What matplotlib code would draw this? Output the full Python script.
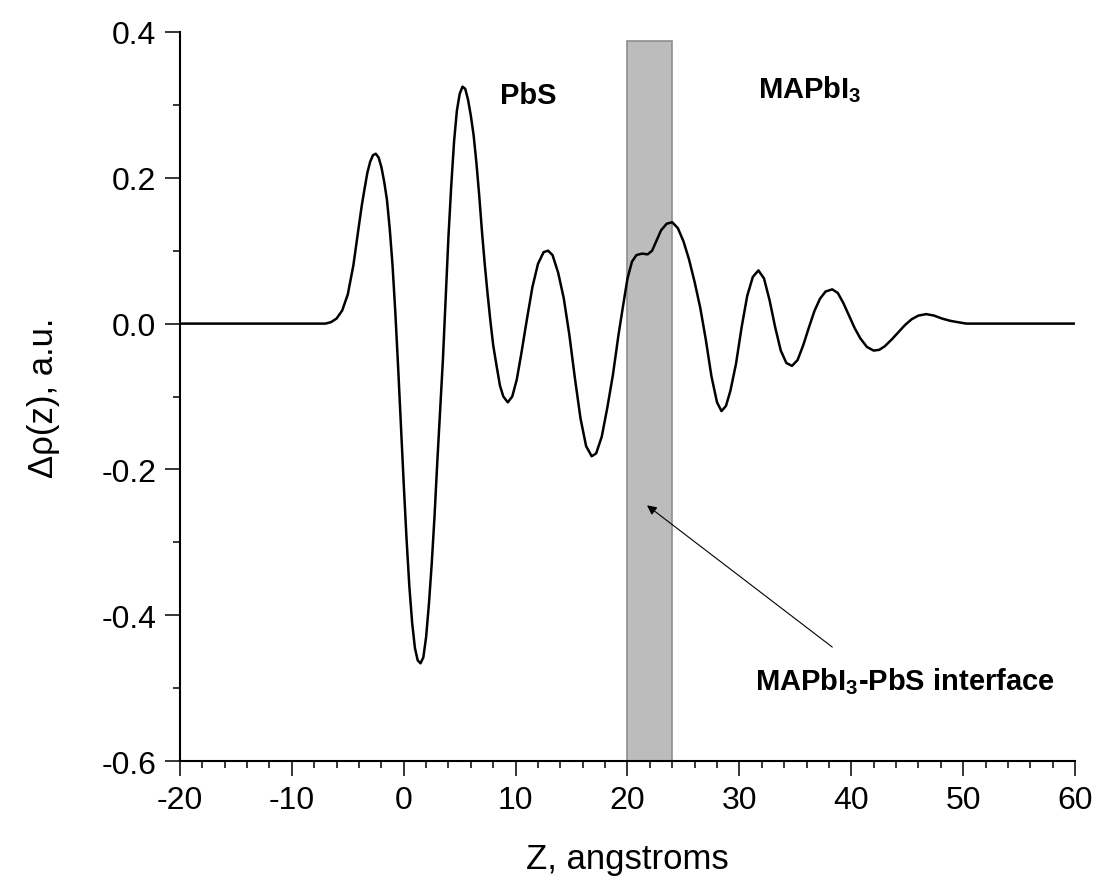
import matplotlib
matplotlib.use("Agg")
import matplotlib.pyplot as plt
from matplotlib.patches import Rectangle
from matplotlib.ticker import MultipleLocator, FormatStrFormatter

plt.rcParams['font.family'] = ['Liberation Sans', 'DejaVu Sans']
plt.rcParams['axes.unicode_minus'] = False
plt.rcParams['mathtext.fontset'] = 'custom'
plt.rcParams['mathtext.rm'] = 'Liberation Sans'
plt.rcParams['mathtext.bf'] = 'Liberation Sans:bold'

# DATA

z = [-20, -7, -6.5, -6, -5.5, -5, -4.5, -4.25, -4, -3.75, -3.5, -3.25, -3,
     -2.75, -2.5, -2.25, -2, -1.75, -1.5, -1.25, -1, -0.75, -0.5, -0.25, 0,
     0.25, 0.5, 0.75, 1, 1.25, 1.5, 1.75, 2, 2.25, 2.5, 2.75, 3, 3.25, 3.5,
     3.75, 4, 4.25, 4.5, 4.75, 5, 5.25, 5.5, 5.75, 6, 6.25, 6.5, 6.75, 7,
     7.25, 7.5, 7.75, 8, 8.3, 8.6, 8.9, 9.3, 9.7, 10.1, 10.5, 11, 11.5, 12,
     12.5, 12.9, 13.3, 13.8, 14.3, 14.8, 15.3, 15.8, 16.3, 16.8, 17.2, 17.7,
     18.2, 18.7, 19.2, 19.6, 20, 20.4, 20.8, 21.3, 21.8, 22.2, 22.6, 23, 23.5,
     24, 24.5, 25, 25.5, 26, 26.5, 27, 27.5, 28, 28.4, 28.8, 29.2, 29.7, 30.2,
     30.7, 31.2, 31.7, 32.2, 32.7, 33.2, 33.7, 34.2, 34.7, 35.2, 35.7, 36.2,
     36.7, 37.2, 37.7, 38.3, 38.8, 39.3, 39.8, 40.3, 40.8, 41.4, 42, 42.5, 43,
     43.6, 44.2, 44.8, 45.4, 46, 46.7, 47.4, 48.1, 48.8, 49.5, 50.3, 60]
drho = [0, 0, 0.002, 0.007, 0.018, 0.04, 0.08, 0.108, 0.135, 0.162, 0.185,
        0.207, 0.222, 0.231, 0.233, 0.228, 0.215, 0.195, 0.17, 0.13, 0.08,
        0.015, -0.06, -0.14, -0.22, -0.295, -0.36, -0.41, -0.445, -0.462,
        -0.466, -0.458, -0.43, -0.385, -0.33, -0.265, -0.19, -0.12, -0.05,
        0.035, 0.12, 0.19, 0.25, 0.292, 0.315, 0.325, 0.322, 0.307, 0.285,
        0.258, 0.22, 0.175, 0.125, 0.08, 0.04, 0.003, -0.03, -0.058, -0.085,
        -0.1, -0.108, -0.1, -0.077, -0.042, 0.005, 0.05, 0.082, 0.098, 0.1,
        0.094, 0.07, 0.035, -0.015, -0.075, -0.13, -0.168, -0.182, -0.178,
        -0.155, -0.115, -0.07, -0.015, 0.024, 0.062, 0.085, 0.094, 0.096,
        0.095, 0.1, 0.114, 0.128, 0.137, 0.139, 0.131, 0.113, 0.088, 0.057,
        0.022, -0.022, -0.072, -0.108, -0.12, -0.113, -0.092, -0.055, -0.005,
        0.038, 0.064, 0.073, 0.062, 0.032, -0.005, -0.037, -0.054, -0.058,
        -0.05, -0.03, -0.006, 0.017, 0.034, 0.044, 0.047, 0.042, 0.028, 0.011,
        -0.006, -0.02, -0.032, -0.037, -0.036, -0.031, -0.022, -0.012, -0.002,
        0.006, 0.011, 0.013, 0.011, 0.007, 0.004, 0.002, 0.0, 0]

interface = [20, 24]       # shaded interface region, angstroms
band_top = 0.388

# PLOT

fig = plt.figure(figsize=(11, 8.87), dpi=100)
ax = fig.add_axes([0.1636, 0.1409, 0.8137, 0.8219])

ax.add_patch(Rectangle((interface[0], -0.6), interface[1] - interface[0],
                       band_top + 0.6, facecolor='#bcbcbc',
                       edgecolor='#8e8e8e', linewidth=1.2, zorder=1))
ax.plot(z, drho, color='black', linewidth=1.8, zorder=3)

ax.set_xlim(-20, 60)
ax.set_ylim(-0.6, 0.4)
ax.xaxis.set_major_locator(MultipleLocator(10))
ax.xaxis.set_minor_locator(MultipleLocator(2))
ax.yaxis.set_major_locator(MultipleLocator(0.2))
ax.yaxis.set_minor_locator(MultipleLocator(0.1))
ax.yaxis.set_major_formatter(FormatStrFormatter('%.1f'))

for s in ['top', 'right']:
    ax.spines[s].set_visible(False)
for s in ['left', 'bottom']:
    ax.spines[s].set_linewidth(1.5)

ax.tick_params(which='major', direction='out', length=11, width=1.1,
               labelsize=23, pad=6)
ax.tick_params(which='minor', direction='out', length=5, width=1.1)

ax.set_xlabel('Z, angstroms', fontsize=25, labelpad=20)
ax.set_ylabel('\u0394\u03c1(z), a.u.', fontsize=25, labelpad=30)

ax.text(8.6, 0.314, 'PbS', fontsize=21, fontweight='bold', va='center')
ax.text(31.65, 0.323, r'MAPbI$_\mathbf{3}$', fontsize=21, fontweight='bold',
        va='center')
ax.text(31.4, -0.49, r'MAPbI$_\mathbf{3}$-PbS interface', fontsize=21,
        fontweight='bold', va='center')
ax.annotate('', xy=(21.55, -0.247), xytext=(38.5, -0.446),
            arrowprops=dict(arrowstyle='-|>', color='black', lw=0.8,
                            mutation_scale=14))

fig.savefig('out.png', dpi=100)
